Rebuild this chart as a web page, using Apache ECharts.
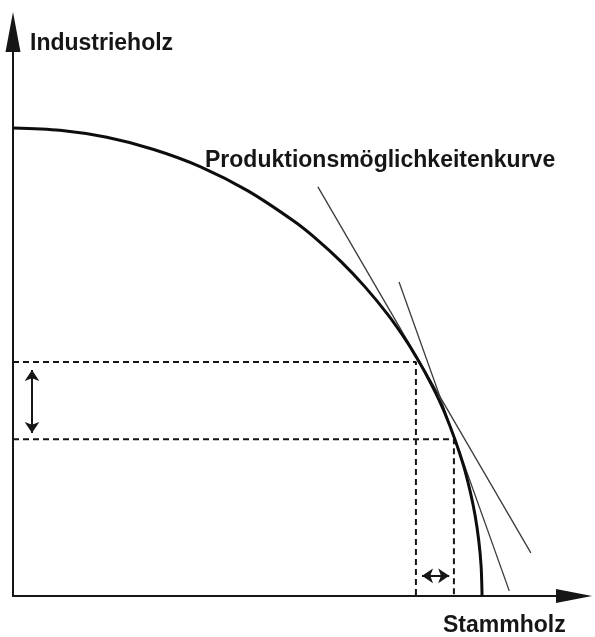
<!DOCTYPE html>
<html>
<head>
<meta charset="utf-8">
<script src="https://cdn.jsdelivr.net/npm/echarts/dist/echarts.min.js"></script>
<style>
  html, body { margin: 0; padding: 0; background: #fff; }
  #chart { width: 595px; height: 637px; }
</style>
</head>
<body>
<div id="chart"></div>
<script>
// Transformationskurve, Werte in relativen Einheiten (Achsen ohne Skala)
const curveX = [0, 10, 20, 30, 40, 50, 60, 65, 70, 75, 80, 84, 86, 88, 90, 92, 94.2, 96, 97.5, 98.5, 99.3, 99.8, 100];
const curveY = [100, 99.5, 98.0, 95.4, 91.7, 86.6, 80.0, 76.0, 71.4, 66.1, 60.0, 54.3, 51.0, 47.5, 43.6, 39.2, 33.5, 28.0, 22.2, 17.3, 11.8, 6.3, 0];

// Hilfslinien (gestrichelt) zu den beiden Punkten
const pointA = [85.9, 50.0];
const pointB = [94.0, 33.5];

// Tangenten
const tangent1 = [[65.0, 87.4], [110.4, 9.2]];
const tangent2 = [[82.3, 67.1], [105.8, 1.1]];

// Doppelpfeile
const arrowY = [[4.05, 48.3], [4.05, 34.8]];
const arrowX = [[87.2, 4.3], [93.0, 4.3]];

const labelY = "Industrieholz";
const labelCurve = "Produktionsmöglichkeitenkurve";
const labelX = "Stammholz";

const ink = "#161616";
const font = 'bold 23px "Liberation Sans", Arial, sans-serif';

const chart = echarts.init(document.getElementById("chart"));

const dashed = (p) => ({
  type: "line",
  data: [[0, p[1]], [p[0], p[1]], [p[0], 0]],
  showSymbol: false,
  lineStyle: { color: ink, width: 2, type: [6, 4] },
  silent: true,
  z: 2,
});

const thin = (seg) => ({
  type: "line",
  data: seg,
  showSymbol: false,
  lineStyle: { color: "#3a3a3a", width: 1.3 },
  silent: true,
  z: 3,
});

const option = {
  backgroundColor: "#fff",
  animation: false,
  grid: { left: 13, right: 21, top: 32, bottom: 41, containLabel: false },
  xAxis: {
    type: "value",
    min: 0,
    max: 119.6,
    axisLine: {
      show: true,
      lineStyle: { color: ink, width: 2 },
      symbol: ["none", "triangle"],
      symbolSize: [14, 36],
    },
    axisTick: { show: false },
    axisLabel: { show: false },
    splitLine: { show: false },
  },
  yAxis: {
    type: "value",
    min: 0,
    max: 120.5,
    axisLine: {
      show: true,
      lineStyle: { color: ink, width: 2 },
      symbol: ["none", "triangle"],
      symbolSize: [15, 40],
    },
    axisTick: { show: false },
    axisLabel: { show: false },
    splitLine: { show: false },
  },
  series: [
    {
      type: "line",
      data: curveX.map((x, i) => [x, curveY[i]]),
      showSymbol: false,
      smooth: 0.3,
      lineStyle: { color: "#0d0d0d", width: 3 },
      silent: true,
      z: 4,
    },
    dashed(pointA),
    dashed(pointB),
    thin(tangent1),
    thin(tangent2),
    {
      type: "lines",
      coordinateSystem: "cartesian2d",
      symbol: ["arrow", "arrow"],
      symbolSize: 11,
      lineStyle: { color: ink, width: 2, opacity: 1 },
      data: [{ coords: arrowY }, { coords: arrowX }],
      silent: true,
      z: 5,
    },
  ],
  graphic: [
    { type: "text", x: 30, y: 44, style: { text: labelY, font, fill: ink, verticalAlign: "middle" } },
    { type: "text", x: 205, y: 161, style: { text: labelCurve, font, fill: ink, verticalAlign: "middle" } },
    { type: "text", x: 443, y: 626, style: { text: labelX, font, fill: ink, verticalAlign: "middle" } },
  ],
};

chart.setOption(option);
</script>
</body>
</html>
